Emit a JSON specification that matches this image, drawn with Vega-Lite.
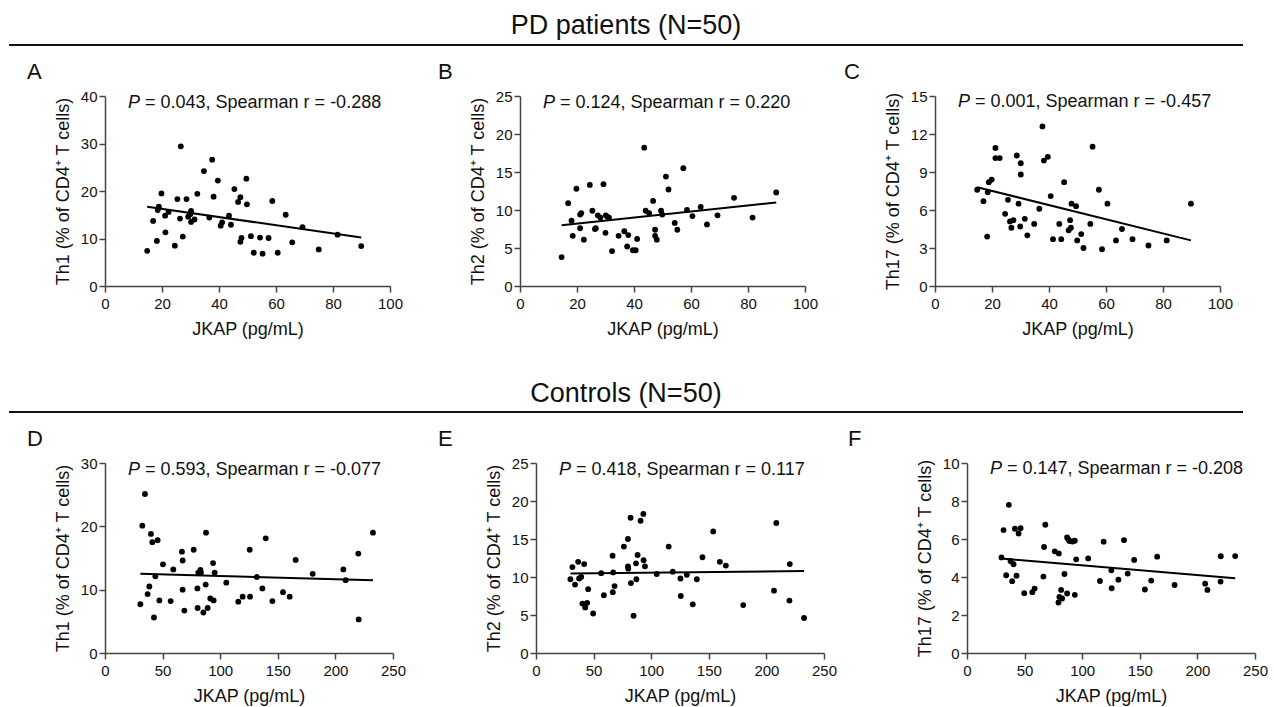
{
  "$schema": "https://vega.github.io/schema/vega-lite/v6.json",
  "padding": {"left": 8, "top": 12, "right": 5, "bottom": 5},
  "background": "white",
  "datasets": {
    "A": [{"x":14.8,"y":7.4},{"x":16.9,"y":13.7},{"x":18.2,"y":9.5},{"x":18.5,"y":16.0},{"x":18.9,"y":16.7},{"x":19.8,"y":19.5},{"x":21.1,"y":14.8},{"x":21.2,"y":11.3},{"x":22.3,"y":15.6},{"x":24.5,"y":8.5},{"x":25.4,"y":18.3},{"x":26.3,"y":14.2},{"x":26.6,"y":29.4},{"x":27.3,"y":10.4},{"x":28.6,"y":18.3},{"x":29.2,"y":14.6},{"x":29.9,"y":15.1},{"x":30.2,"y":15.8},{"x":30.2,"y":13.5},{"x":31.4,"y":14.0},{"x":32.4,"y":19.4},{"x":34.7,"y":24.2},{"x":36.6,"y":14.4},{"x":37.6,"y":26.6},{"x":38.1,"y":18.8},{"x":39.6,"y":22.2},{"x":40.6,"y":12.7},{"x":41.1,"y":13.4},{"x":43.5,"y":14.8},{"x":44.2,"y":12.9},{"x":45.4,"y":20.4},{"x":46.7,"y":17.7},{"x":47.5,"y":18.7},{"x":47.5,"y":9.3},{"x":47.9,"y":10.1},{"x":49.6,"y":22.6},{"x":49.8,"y":17.2},{"x":51.2,"y":10.5},{"x":52.2,"y":7.0},{"x":54.4,"y":10.2},{"x":55.3,"y":6.8},{"x":57.4,"y":10.1},{"x":58.7,"y":17.9},{"x":60.6,"y":7.0},{"x":63.4,"y":15.0},{"x":65.7,"y":9.2},{"x":69.3,"y":12.4},{"x":75.0,"y":7.7},{"x":81.6,"y":10.8},{"x":89.9,"y":8.4}],
    "B": [{"x":14.6,"y":3.8},{"x":16.9,"y":10.9},{"x":18.1,"y":8.6},{"x":18.5,"y":6.6},{"x":19.8,"y":12.8},{"x":21.1,"y":9.4},{"x":21.5,"y":9.6},{"x":21.1,"y":7.6},{"x":22.4,"y":6.1},{"x":24.5,"y":13.3},{"x":25.4,"y":9.9},{"x":26.3,"y":7.5},{"x":26.6,"y":7.6},{"x":27.3,"y":9.3},{"x":28.2,"y":9.0},{"x":29.3,"y":13.4},{"x":30.0,"y":7.0},{"x":30.1,"y":9.3},{"x":30.7,"y":9.1},{"x":31.2,"y":9.0},{"x":32.3,"y":4.6},{"x":34.6,"y":6.6},{"x":36.6,"y":7.2},{"x":37.6,"y":5.2},{"x":38.0,"y":6.7},{"x":39.6,"y":4.7},{"x":40.6,"y":4.7},{"x":41.1,"y":6.2},{"x":43.6,"y":18.2},{"x":44.1,"y":9.9},{"x":45.3,"y":9.6},{"x":46.7,"y":11.2},{"x":47.4,"y":7.4},{"x":47.4,"y":6.6},{"x":48.0,"y":6.1},{"x":49.5,"y":9.9},{"x":49.9,"y":9.4},{"x":51.2,"y":14.4},{"x":52.1,"y":12.7},{"x":54.3,"y":8.3},{"x":55.2,"y":7.4},{"x":57.3,"y":15.5},{"x":58.6,"y":10.0},{"x":60.5,"y":9.2},{"x":63.4,"y":10.4},{"x":65.6,"y":8.1},{"x":69.3,"y":9.3},{"x":75.1,"y":11.6},{"x":81.6,"y":9.0},{"x":89.9,"y":12.3}],
    "C": [{"x":14.8,"y":7.6},{"x":17.0,"y":6.7},{"x":18.3,"y":3.9},{"x":18.5,"y":7.4},{"x":18.9,"y":8.2},{"x":19.9,"y":8.4},{"x":21.2,"y":10.9},{"x":21.2,"y":10.1},{"x":22.7,"y":10.1},{"x":24.6,"y":5.7},{"x":25.6,"y":6.8},{"x":26.3,"y":5.1},{"x":26.8,"y":4.6},{"x":27.5,"y":5.2},{"x":28.7,"y":10.3},{"x":29.3,"y":6.5},{"x":29.9,"y":4.7},{"x":30.1,"y":9.7},{"x":30.1,"y":8.8},{"x":31.5,"y":5.3},{"x":32.4,"y":4.0},{"x":34.8,"y":4.9},{"x":36.6,"y":6.1},{"x":37.7,"y":12.6},{"x":38.2,"y":9.9},{"x":39.6,"y":10.2},{"x":40.6,"y":7.1},{"x":41.4,"y":3.7},{"x":43.6,"y":4.9},{"x":44.3,"y":3.7},{"x":45.3,"y":8.2},{"x":46.9,"y":4.4},{"x":47.4,"y":5.2},{"x":47.7,"y":4.6},{"x":47.9,"y":6.5},{"x":49.5,"y":6.3},{"x":49.9,"y":3.6},{"x":51.3,"y":4.1},{"x":52.1,"y":3.0},{"x":54.5,"y":4.9},{"x":55.3,"y":11.0},{"x":57.5,"y":7.6},{"x":58.6,"y":2.9},{"x":60.5,"y":6.5},{"x":63.5,"y":3.6},{"x":65.6,"y":4.5},{"x":69.3,"y":3.7},{"x":74.9,"y":3.2},{"x":81.3,"y":3.6},{"x":89.8,"y":6.5}],
    "D": [{"x":30.7,"y":7.7},{"x":32.4,"y":20.1},{"x":34.7,"y":25.1},{"x":37.0,"y":9.3},{"x":38.5,"y":10.5},{"x":39.9,"y":18.8},{"x":41.1,"y":17.5},{"x":42.5,"y":5.6},{"x":43.7,"y":12.1},{"x":45.7,"y":17.8},{"x":47.2,"y":8.3},{"x":50.3,"y":14.0},{"x":57.0,"y":8.2},{"x":59.3,"y":13.2},{"x":66.8,"y":16.0},{"x":67.4,"y":14.6},{"x":67.4,"y":10.0},{"x":68.9,"y":6.7},{"x":77.0,"y":16.3},{"x":80.2,"y":10.2},{"x":80.4,"y":7.1},{"x":81.0,"y":12.7},{"x":82.8,"y":13.1},{"x":83.3,"y":12.7},{"x":85.4,"y":6.4},{"x":87.4,"y":10.8},{"x":87.7,"y":19.0},{"x":89.1,"y":7.1},{"x":91.4,"y":8.6},{"x":93.8,"y":14.2},{"x":94.3,"y":8.3},{"x":95.2,"y":12.7},{"x":105.3,"y":11.1},{"x":115.7,"y":8.1},{"x":119.5,"y":8.9},{"x":125.6,"y":16.3},{"x":125.9,"y":8.9},{"x":131.7,"y":12.0},{"x":136.6,"y":10.2},{"x":139.5,"y":18.1},{"x":145.3,"y":8.2},{"x":154.5,"y":9.6},{"x":160.3,"y":8.9},{"x":165.5,"y":14.7},{"x":180.3,"y":12.5},{"x":206.9,"y":13.2},{"x":208.9,"y":11.5},{"x":219.9,"y":15.7},{"x":220.2,"y":5.3},{"x":232.6,"y":19.0}],
    "E": [{"x":29.9,"y":9.7},{"x":31.6,"y":11.3},{"x":33.9,"y":9.0},{"x":36.6,"y":12.0},{"x":37.4,"y":9.8},{"x":39.2,"y":10.0},{"x":40.3,"y":6.5},{"x":41.8,"y":11.7},{"x":42.7,"y":6.0},{"x":44.4,"y":6.6},{"x":45.3,"y":8.4},{"x":49.6,"y":5.2},{"x":56.6,"y":10.5},{"x":58.9,"y":7.6},{"x":66.5,"y":12.8},{"x":67.0,"y":10.6},{"x":66.7,"y":8.0},{"x":68.2,"y":8.8},{"x":76.3,"y":14.0},{"x":79.8,"y":15.0},{"x":79.8,"y":11.4},{"x":80.1,"y":11.1},{"x":82.1,"y":17.8},{"x":82.4,"y":9.2},{"x":84.7,"y":4.9},{"x":86.8,"y":11.8},{"x":87.1,"y":9.7},{"x":88.2,"y":12.9},{"x":90.8,"y":17.4},{"x":93.2,"y":18.3},{"x":93.4,"y":12.2},{"x":94.6,"y":11.4},{"x":104.8,"y":10.4},{"x":115.2,"y":14.0},{"x":118.7,"y":10.7},{"x":125.4,"y":9.8},{"x":125.7,"y":7.5},{"x":130.9,"y":10.3},{"x":136.1,"y":6.4},{"x":139.6,"y":9.7},{"x":144.5,"y":12.6},{"x":153.8,"y":16.0},{"x":159.6,"y":12.0},{"x":164.8,"y":11.5},{"x":179.9,"y":6.3},{"x":206.6,"y":8.2},{"x":208.6,"y":17.1},{"x":220.0,"y":6.9},{"x":220.3,"y":11.7},{"x":232.7,"y":4.6}],
    "F": [{"x":29.9,"y":5.03},{"x":31.7,"y":6.47},{"x":34.0,"y":4.09},{"x":36.3,"y":7.8},{"x":37.8,"y":4.84},{"x":39.2,"y":3.78},{"x":40.4,"y":4.67},{"x":41.6,"y":6.54},{"x":43.0,"y":4.07},{"x":44.8,"y":6.29},{"x":46.5,"y":6.57},{"x":49.7,"y":3.15},{"x":56.7,"y":3.2},{"x":58.7,"y":3.39},{"x":66.3,"y":4.02},{"x":66.9,"y":5.58},{"x":68.0,"y":6.75},{"x":76.2,"y":5.35},{"x":79.7,"y":5.24},{"x":79.4,"y":2.66},{"x":80.2,"y":2.95},{"x":81.7,"y":3.32},{"x":82.6,"y":2.87},{"x":84.6,"y":4.16},{"x":86.9,"y":3.13},{"x":86.9,"y":6.08},{"x":88.0,"y":5.98},{"x":89.0,"y":5.89},{"x":91.6,"y":5.87},{"x":93.6,"y":3.06},{"x":93.6,"y":5.91},{"x":94.8,"y":4.93},{"x":105.2,"y":4.98},{"x":115.4,"y":3.79},{"x":118.6,"y":5.86},{"x":125.3,"y":4.35},{"x":125.6,"y":3.41},{"x":131.4,"y":3.86},{"x":136.3,"y":5.94},{"x":139.5,"y":4.18},{"x":145.1,"y":4.9},{"x":154.4,"y":3.34},{"x":159.9,"y":3.81},{"x":165.1,"y":5.07},{"x":180.2,"y":3.58},{"x":206.7,"y":3.65},{"x":208.7,"y":3.32},{"x":220.1,"y":3.76},{"x":220.3,"y":5.09},{"x":232.8,"y":5.1}],
    "fits": [
      {"panel":"A","x1":14.8,"y1":16.7,"x2":89.9,"y2":10.2},
      {"panel":"B","x1":14.6,"y1":8.0,"x2":89.9,"y2":11.0},
      {"panel":"C","x1":14.8,"y1":7.8,"x2":89.8,"y2":3.6},
      {"panel":"D","x1":30.7,"y1":12.5,"x2":232.6,"y2":11.5},
      {"panel":"E","x1":29.9,"y1":10.45,"x2":232.7,"y2":10.8},
      {"panel":"F","x1":29.9,"y1":4.97,"x2":232.8,"y2":3.93}
    ],
    "labels": [
      {"panel":"A","p":"P","stat":"= 0.043, Spearman r = -0.288"},
      {"panel":"B","p":"P","stat":"= 0.124, Spearman r = 0.220"},
      {"panel":"C","p":"P","stat":"= 0.001, Spearman r = -0.457"},
      {"panel":"D","p":"P","stat":"= 0.593, Spearman r = -0.077"},
      {"panel":"E","p":"P","stat":"= 0.418, Spearman r = 0.117"},
      {"panel":"F","p":"P","stat":"= 0.147, Spearman r = -0.208"}
    ],
    "headers": [
      {"group":"PD","title":"PD patients (N=50)"},
      {"group":"Controls","title":"Controls (N=50)"}
    ]
  },
  "bounds": "flush",
  "spacing": 51,
  "vconcat": [
    {
      "width": 1000, "height": 30,
      "data": {"name": "headers"},
      "transform": [{"filter": "datum.group == 'PD'"}],
      "layer": [
        {"mark": {"type": "rule", "color": "#111", "strokeWidth": 2},
         "encoding": {"x": {"datum": -96, "type": "quantitative", "scale": {"domain": [0, 1000]}, "axis": null}, "x2": {"datum": 1138}, "y": {"datum": 0, "type": "quantitative", "scale": {"domain": [0, 30]}, "axis": null}}},
        {"mark": {"type": "text", "fontSize": 27, "align": "center", "baseline": "alphabetic", "color": "#111"},
         "encoding": {"x": {"datum": 521, "type": "quantitative"}, "y": {"datum": 11, "type": "quantitative"}, "text": {"field": "title"}}}
      ]
    },
    {
      "bounds": "flush",
      "spacing": 130,
      "hconcat": [
        {
          "width": 285, "height": 190,
          "layer": [
            {"data": {"name": "A"}, "mark": {"type": "circle", "size": 34, "opacity": 1, "color": "black"},
             "encoding": {"x": {"field": "x", "type": "quantitative", "scale": {"domain": [0, 100], "nice": false}, "axis": {"values": [0, 20, 40, 60, 80, 100], "tickCount": 20, "format": "d", "title": "JKAP (pg/mL)"}},
                          "y": {"field": "y", "type": "quantitative", "scale": {"domain": [0, 40], "nice": false}, "axis": {"values": [0, 10, 20, 30, 40], "tickCount": 20, "format": "d", "title": "Th1 (% of CD4⁺ T cells)"}}}},
            {"data": {"name": "fits"}, "transform": [{"filter": "datum.panel == 'A'"}], "mark": {"type": "rule", "color": "black", "strokeWidth": 2},
             "encoding": {"x": {"field": "x1", "type": "quantitative"}, "y": {"field": "y1", "type": "quantitative"}, "x2": {"field": "x2"}, "y2": {"field": "y2"}}},
            {"data": {"name": "labels"}, "transform": [{"filter": "datum.panel == 'A'"}], "mark": {"type": "text", "fontSize": 18, "fontStyle": "italic", "align": "left", "baseline": "middle"},
             "encoding": {"x": {"datum": 8.07}, "y": {"datum": 38.63}, "text": {"field": "p"}}},
            {"data": {"name": "labels"}, "transform": [{"filter": "datum.panel == 'A'"}], "mark": {"type": "text", "fontSize": 18, "align": "left", "baseline": "middle"},
             "encoding": {"x": {"datum": 14.04}, "y": {"datum": 38.63}, "text": {"field": "stat"}}},
            {"data": {"name": "labels"}, "transform": [{"filter": "datum.panel == 'A'"}], "mark": {"type": "text", "fontSize": 22, "align": "left", "baseline": "alphabetic"},
             "encoding": {"x": {"datum": -27.4}, "y": {"datum": 43.58}, "text": {"field": "panel"}}}
          ]
        },
        {
          "width": 285, "height": 190,
          "layer": [
            {"data": {"name": "B"}, "mark": {"type": "circle", "size": 34, "opacity": 1, "color": "black"},
             "encoding": {"x": {"field": "x", "type": "quantitative", "scale": {"domain": [0, 100], "nice": false}, "axis": {"values": [0, 20, 40, 60, 80, 100], "tickCount": 20, "format": "d", "title": "JKAP (pg/mL)"}},
                          "y": {"field": "y", "type": "quantitative", "scale": {"domain": [0, 25], "nice": false}, "axis": {"values": [0, 5, 10, 15, 20, 25], "tickCount": 20, "format": "d", "title": "Th2 (% of CD4⁺ T cells)"}}}},
            {"data": {"name": "fits"}, "transform": [{"filter": "datum.panel == 'B'"}], "mark": {"type": "rule", "color": "black", "strokeWidth": 2},
             "encoding": {"x": {"field": "x1", "type": "quantitative"}, "y": {"field": "y1", "type": "quantitative"}, "x2": {"field": "x2"}, "y2": {"field": "y2"}}},
            {"data": {"name": "labels"}, "transform": [{"filter": "datum.panel == 'B'"}], "mark": {"type": "text", "fontSize": 18, "fontStyle": "italic", "align": "left", "baseline": "middle"},
             "encoding": {"x": {"datum": 8.07}, "y": {"datum": 24.14}, "text": {"field": "p"}}},
            {"data": {"name": "labels"}, "transform": [{"filter": "datum.panel == 'B'"}], "mark": {"type": "text", "fontSize": 18, "align": "left", "baseline": "middle"},
             "encoding": {"x": {"datum": 14.04}, "y": {"datum": 24.14}, "text": {"field": "stat"}}},
            {"data": {"name": "labels"}, "transform": [{"filter": "datum.panel == 'B'"}], "mark": {"type": "text", "fontSize": 22, "align": "left", "baseline": "alphabetic"},
             "encoding": {"x": {"datum": -28.8}, "y": {"datum": 27.24}, "text": {"field": "panel"}}}
          ]
        },
        {
          "width": 285, "height": 190,
          "layer": [
            {"data": {"name": "C"}, "mark": {"type": "circle", "size": 34, "opacity": 1, "color": "black"},
             "encoding": {"x": {"field": "x", "type": "quantitative", "scale": {"domain": [0, 100], "nice": false}, "axis": {"values": [0, 20, 40, 60, 80, 100], "tickCount": 20, "format": "d", "title": "JKAP (pg/mL)"}},
                          "y": {"field": "y", "type": "quantitative", "scale": {"domain": [0, 15], "nice": false}, "axis": {"values": [0, 3, 6, 9, 12, 15], "tickCount": 20, "format": "d", "title": "Th17 (% of CD4⁺ T cells)"}}}},
            {"data": {"name": "fits"}, "transform": [{"filter": "datum.panel == 'C'"}], "mark": {"type": "rule", "color": "black", "strokeWidth": 2},
             "encoding": {"x": {"field": "x1", "type": "quantitative"}, "y": {"field": "y1", "type": "quantitative"}, "x2": {"field": "x2"}, "y2": {"field": "y2"}}},
            {"data": {"name": "labels"}, "transform": [{"filter": "datum.panel == 'C'"}], "mark": {"type": "text", "fontSize": 18, "fontStyle": "italic", "align": "left", "baseline": "middle"},
             "encoding": {"x": {"datum": 8.07}, "y": {"datum": 14.49}, "text": {"field": "p"}}},
            {"data": {"name": "labels"}, "transform": [{"filter": "datum.panel == 'C'"}], "mark": {"type": "text", "fontSize": 18, "align": "left", "baseline": "middle"},
             "encoding": {"x": {"datum": 14.04}, "y": {"datum": 14.49}, "text": {"field": "stat"}}},
            {"data": {"name": "labels"}, "transform": [{"filter": "datum.panel == 'C'"}], "mark": {"type": "text", "fontSize": 22, "align": "left", "baseline": "alphabetic"},
             "encoding": {"x": {"datum": -31.9}, "y": {"datum": 16.34}, "text": {"field": "panel"}}}
          ]
        }
      ]
    },
    {
      "width": 1000, "height": 265,
      "data": {"name": "headers"},
      "transform": [{"filter": "datum.group == 'Controls'"}],
      "layer": [
        {"mark": {"type": "rule", "color": "#111", "strokeWidth": 2},
         "encoding": {"x": {"datum": -96, "type": "quantitative", "scale": {"domain": [0, 1000]}, "axis": null}, "x2": {"datum": 1138}, "y": {"datum": 0, "type": "quantitative", "scale": {"domain": [0, 265]}, "axis": null}}},
        {"mark": {"type": "text", "fontSize": 27, "align": "center", "baseline": "alphabetic", "color": "#111"},
         "encoding": {"x": {"datum": 521, "type": "quantitative"}, "y": {"datum": 11, "type": "quantitative"}, "text": {"field": "title"}}}
      ]
    },
    {
      "bounds": "flush",
      "spacing": 143,
      "hconcat": [
        {
          "width": 288, "height": 190,
          "layer": [
            {"data": {"name": "D"}, "mark": {"type": "circle", "size": 34, "opacity": 1, "color": "black"},
             "encoding": {"x": {"field": "x", "type": "quantitative", "scale": {"domain": [0, 250], "nice": false}, "axis": {"values": [0, 50, 100, 150, 200, 250], "tickCount": 20, "format": "d", "title": "JKAP (pg/mL)"}},
                          "y": {"field": "y", "type": "quantitative", "scale": {"domain": [0, 30], "nice": false}, "axis": {"values": [0, 10, 20, 30], "tickCount": 20, "format": "d", "title": "Th1 (% of CD4⁺ T cells)"}}}},
            {"data": {"name": "fits"}, "transform": [{"filter": "datum.panel == 'D'"}], "mark": {"type": "rule", "color": "black", "strokeWidth": 2},
             "encoding": {"x": {"field": "x1", "type": "quantitative"}, "y": {"field": "y1", "type": "quantitative"}, "x2": {"field": "x2"}, "y2": {"field": "y2"}}},
            {"data": {"name": "labels"}, "transform": [{"filter": "datum.panel == 'D'"}], "mark": {"type": "text", "fontSize": 18, "fontStyle": "italic", "align": "left", "baseline": "middle"},
             "encoding": {"x": {"datum": 20.0}, "y": {"datum": 28.97}, "text": {"field": "p"}}},
            {"data": {"name": "labels"}, "transform": [{"filter": "datum.panel == 'D'"}], "mark": {"type": "text", "fontSize": 18, "align": "left", "baseline": "middle"},
             "encoding": {"x": {"datum": 34.7}, "y": {"datum": 28.97}, "text": {"field": "stat"}}},
            {"data": {"name": "labels"}, "transform": [{"filter": "datum.panel == 'D'"}], "mark": {"type": "text", "fontSize": 22, "align": "left", "baseline": "alphabetic"},
             "encoding": {"x": {"datum": -67.7}, "y": {"datum": 32.69}, "text": {"field": "panel"}}}
          ]
        },
        {
          "width": 288, "height": 190,
          "layer": [
            {"data": {"name": "E"}, "mark": {"type": "circle", "size": 34, "opacity": 1, "color": "black"},
             "encoding": {"x": {"field": "x", "type": "quantitative", "scale": {"domain": [0, 250], "nice": false}, "axis": {"values": [0, 50, 100, 150, 200, 250], "tickCount": 20, "format": "d", "title": "JKAP (pg/mL)"}},
                          "y": {"field": "y", "type": "quantitative", "scale": {"domain": [0, 25], "nice": false}, "axis": {"values": [0, 5, 10, 15, 20, 25], "tickCount": 20, "format": "d", "title": "Th2 (% of CD4⁺ T cells)"}}}},
            {"data": {"name": "fits"}, "transform": [{"filter": "datum.panel == 'E'"}], "mark": {"type": "rule", "color": "black", "strokeWidth": 2},
             "encoding": {"x": {"field": "x1", "type": "quantitative"}, "y": {"field": "y1", "type": "quantitative"}, "x2": {"field": "x2"}, "y2": {"field": "y2"}}},
            {"data": {"name": "labels"}, "transform": [{"filter": "datum.panel == 'E'"}], "mark": {"type": "text", "fontSize": 18, "fontStyle": "italic", "align": "left", "baseline": "middle"},
             "encoding": {"x": {"datum": 20.0}, "y": {"datum": 24.14}, "text": {"field": "p"}}},
            {"data": {"name": "labels"}, "transform": [{"filter": "datum.panel == 'E'"}], "mark": {"type": "text", "fontSize": 18, "align": "left", "baseline": "middle"},
             "encoding": {"x": {"datum": 34.7}, "y": {"datum": 24.14}, "text": {"field": "stat"}}},
            {"data": {"name": "labels"}, "transform": [{"filter": "datum.panel == 'E'"}], "mark": {"type": "text", "fontSize": 22, "align": "left", "baseline": "alphabetic"},
             "encoding": {"x": {"datum": -85.1}, "y": {"datum": 27.24}, "text": {"field": "panel"}}}
          ]
        },
        {
          "width": 288, "height": 190,
          "layer": [
            {"data": {"name": "F"}, "mark": {"type": "circle", "size": 34, "opacity": 1, "color": "black"},
             "encoding": {"x": {"field": "x", "type": "quantitative", "scale": {"domain": [0, 250], "nice": false}, "axis": {"values": [0, 50, 100, 150, 200, 250], "tickCount": 20, "format": "d", "title": "JKAP (pg/mL)"}},
                          "y": {"field": "y", "type": "quantitative", "scale": {"domain": [0, 10], "nice": false}, "axis": {"values": [0, 2, 4, 6, 8, 10], "tickCount": 20, "format": "d", "title": "Th17 (% of CD4⁺ T cells)"}}}},
            {"data": {"name": "fits"}, "transform": [{"filter": "datum.panel == 'F'"}], "mark": {"type": "rule", "color": "black", "strokeWidth": 2},
             "encoding": {"x": {"field": "x1", "type": "quantitative"}, "y": {"field": "y1", "type": "quantitative"}, "x2": {"field": "x2"}, "y2": {"field": "y2"}}},
            {"data": {"name": "labels"}, "transform": [{"filter": "datum.panel == 'F'"}], "mark": {"type": "text", "fontSize": 18, "fontStyle": "italic", "align": "left", "baseline": "middle"},
             "encoding": {"x": {"datum": 20.0}, "y": {"datum": 9.66}, "text": {"field": "p"}}},
            {"data": {"name": "labels"}, "transform": [{"filter": "datum.panel == 'F'"}], "mark": {"type": "text", "fontSize": 18, "align": "left", "baseline": "middle"},
             "encoding": {"x": {"datum": 34.7}, "y": {"datum": 9.66}, "text": {"field": "stat"}}},
            {"data": {"name": "labels"}, "transform": [{"filter": "datum.panel == 'F'"}], "mark": {"type": "text", "fontSize": 22, "align": "left", "baseline": "alphabetic"},
             "encoding": {"x": {"datum": -103.3}, "y": {"datum": 10.89}, "text": {"field": "panel"}}}
          ]
        }
      ]
    }
  ],
  "config": {
    "font": "Liberation Sans",
    "view": {"stroke": null},
    "text": {"font": "Liberation Sans", "color": "#111"},
    "axis": {
      "grid": false,
      "domainColor": "#444",
      "domainWidth": 1.5,
      "tickColor": "#444",
      "tickWidth": 1.5,
      "tickSize": 6,
      "labelFont": "Liberation Sans",
      "labelFontSize": 15,
      "labelColor": "#111",
      "labelFlush": false,
      "labelOverlap": false,
      "titleFont": "Liberation Sans",
      "titleFontSize": 18,
      "titleFontWeight": "normal",
      "titleColor": "#111"
    },
    "axisX": {"labelPadding": 4, "titlePadding": 9},
    "axisY": {"labelPadding": 2, "titlePadding": 8}
  }
}
